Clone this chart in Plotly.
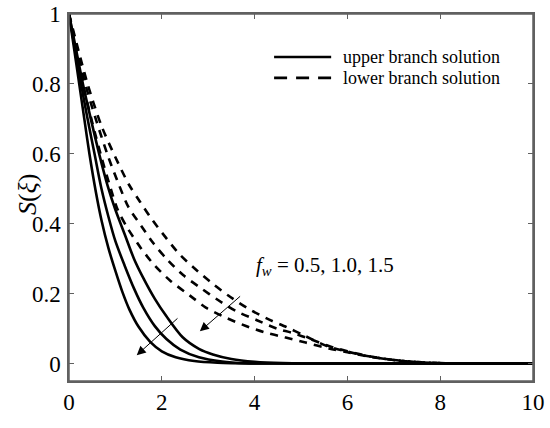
import plotly.graph_objects as go

# ---- data ----
xi_u1 = [0, 0.1, 0.22, 0.33, 0.44, 0.58, 0.7, 0.85, 1.0, 1.15, 1.3, 1.5, 1.75, 2.0, 2.3, 2.7, 3.2, 4.0, 10]
s_u1 = [1, 0.91, 0.80, 0.70, 0.60, 0.49, 0.41, 0.33, 0.265, 0.205, 0.155, 0.105, 0.062, 0.035, 0.018, 0.007, 0.002, 0, 0]

xi_u2 = [0, 0.13, 0.26, 0.4, 0.55, 0.7, 0.85, 1.0, 1.2, 1.4, 1.6, 1.85, 2.1, 2.4, 2.8, 3.3, 3.8, 4.5, 10]
s_u2 = [1, 0.90, 0.80, 0.70, 0.60, 0.50, 0.42, 0.35, 0.28, 0.215, 0.16, 0.107, 0.07, 0.04, 0.018, 0.006, 0.001, 0, 0]

xi_u3 = [0, 0.15, 0.3, 0.47, 0.65, 0.83, 1.0, 1.2, 1.4, 1.6, 1.85, 2.1, 2.45, 2.8, 3.1, 3.5, 4.0, 4.6, 5.2, 10]
s_u3 = [1, 0.90, 0.80, 0.70, 0.60, 0.51, 0.44, 0.37, 0.30, 0.245, 0.185, 0.135, 0.075, 0.042, 0.026, 0.013, 0.005, 0.001, 0, 0]

xi_l1 = [0, 0.3, 0.5, 0.7, 0.9, 1.05, 1.25, 1.55, 1.85, 2.2, 2.6, 2.95, 3.4, 3.8, 4.2, 4.65, 5.1, 5.6, 6.0, 6.5, 7.0, 7.5, 8.0, 9.0, 10]
s_l1 = [1, 0.80, 0.69, 0.59, 0.50, 0.44, 0.39, 0.33, 0.28, 0.235, 0.195, 0.16, 0.13, 0.108, 0.09, 0.075, 0.06, 0.043, 0.032, 0.019, 0.01, 0.004, 0.001, 0, 0]

xi_l2 = [0, 0.35, 0.6, 0.85, 1.08, 1.28, 1.55, 1.82, 2.1, 2.46, 2.85, 3.22, 3.6, 4.05, 4.48, 4.8, 5.2, 5.6, 6.0, 6.5, 7.0, 7.5, 8.0, 9.0, 10]
s_l2 = [1, 0.80, 0.69, 0.59, 0.51, 0.448, 0.395, 0.344, 0.30, 0.253, 0.215, 0.181, 0.15, 0.124, 0.10, 0.088, 0.07, 0.05, 0.035, 0.02, 0.01, 0.004, 0.001, 0, 0]

xi_l3 = [0, 0.4, 0.7, 1.0, 1.3, 1.53, 1.8, 2.1, 2.4, 2.75, 3.1, 3.47, 3.85, 4.26, 4.69, 5.04, 5.56, 6.0, 6.49, 7.0, 7.5, 8.0, 9.0, 10]
s_l3 = [1, 0.80, 0.68, 0.59, 0.51, 0.463, 0.41, 0.358, 0.31, 0.267, 0.228, 0.191, 0.158, 0.129, 0.104, 0.082, 0.05, 0.034, 0.02, 0.01, 0.004, 0.001, 0, 0]

upper = [(xi_u1, s_u1), (xi_u2, s_u2), (xi_u3, s_u3)]
lower = [(xi_l1, s_l1), (xi_l2, s_l2), (xi_l3, s_l3)]

x_ticks = [0, 2, 4, 6, 8, 10]
y_ticks = [0, 0.2, 0.4, 0.6, 0.8, 1]
y_tick_text = ["0", "0.2", "0.4", "0.6", "0.8", "1"]
x_range = [0, 10]
y_range = [-0.05, 1]

legend_labels = ["upper branch solution", "lower branch solution"]
fw_label = "<i>f</i><sub><i>w</i></sub> = 0.5, 1.0, 1.5"

# ---- figure ----
FONT = "Liberation Serif"
AX_COLOR = "#606060"
AX_W = 1.5
fig = go.Figure()

for xs, ys in upper:
    fig.add_trace(go.Scatter(x=xs, y=ys, mode="lines",
                             line=dict(color="black", width=2.6, shape="spline", smoothing=0.8),
                             showlegend=False, hoverinfo="skip"))
for xs, ys in lower:
    fig.add_trace(go.Scatter(x=xs, y=ys, mode="lines",
                             line=dict(color="black", width=2.6, dash="8px,7px", shape="spline", smoothing=0.8),
                             showlegend=False, hoverinfo="skip"))

axis_common = dict(showgrid=False, zeroline=False, showline=True, linecolor=AX_COLOR, linewidth=AX_W,
                   mirror="ticks", ticks="inside", ticklen=5, tickcolor=AX_COLOR, tickwidth=1,
                   automargin=False, ticklabeloverflow="allow",
                   tickfont=dict(family=FONT, size=23, color="black"))

fig.update_layout(
    xaxis=dict(range=x_range, tickvals=x_ticks, ticktext=[str(v) for v in x_ticks], **axis_common),
    yaxis=dict(range=y_range, tickvals=y_ticks, ticktext=y_tick_text, ticklabelstandoff=2, **axis_common),
    # frame axes on top and right (ticks only, no labels)
    xaxis2=dict(range=x_range, tickvals=x_ticks, overlaying="x", side="top", anchor="y",
                showgrid=False, zeroline=False, showline=True, linecolor=AX_COLOR, linewidth=AX_W,
                ticks="inside", ticklen=5, tickcolor=AX_COLOR, tickwidth=1,
                showticklabels=False, automargin=False),
    yaxis2=dict(range=y_range, tickvals=y_ticks, overlaying="y", side="right", anchor="x",
                showgrid=False, zeroline=False, showline=True, linecolor=AX_COLOR, linewidth=AX_W,
                ticks="inside", ticklen=5, tickcolor=AX_COLOR, tickwidth=1,
                showticklabels=False, automargin=False),
)
# invisible trace to activate the frame axes
fig.add_trace(go.Scatter(x=[x_range[0]], y=[y_range[0]], xaxis="x2", yaxis="y2", mode="markers",
                         marker=dict(opacity=0), showlegend=False, hoverinfo="skip"))

# plot-area frame
fig.add_shape(type="rect", xref="paper", yref="paper", x0=0, x1=1, y0=0, y1=1,
              line=dict(color=AX_COLOR, width=AX_W), layer="above")

# manual legend (paper coordinates)
leg_y = [0.883, 0.826]
dashes = ["solid", "13px,9px"]
for yy, dd, lab in zip(leg_y, dashes, legend_labels):
    fig.add_shape(type="line", xref="paper", yref="paper", x0=0.442, x1=0.565, y0=yy, y1=yy,
                  line=dict(color="black", width=2.6, dash=dd))
    fig.add_annotation(xref="paper", yref="paper", x=0.586, y=yy, text=lab, showarrow=False,
                       xanchor="left", yanchor="middle",
                       font=dict(family=FONT, size=18, color="black"))

# f_w label
fig.add_annotation(x=3.98, y=0.28, xref="x", yref="y", text=fw_label, showarrow=False,
                   xanchor="left", yanchor="middle", font=dict(family=FONT, size=21, color="black"))

# arrows
fig.add_annotation(x=1.46, y=0.024, ax=2.37, ay=0.133, xref="x", yref="y", axref="x", ayref="y",
                   text="", showarrow=True, arrowhead=2, arrowsize=1.8, arrowwidth=1, arrowcolor="black")
fig.add_annotation(x=2.82, y=0.092, ax=3.72, ay=0.196, xref="x", yref="y", axref="x", ayref="y",
                   text="", showarrow=True, arrowhead=2, arrowsize=1.8, arrowwidth=1, arrowcolor="black")

# axis titles as annotations
fig.add_annotation(x=5.13, y=-0.128, xref="x", yref="y", text="<i>ξ</i>", showarrow=False,
                   xanchor="center", yanchor="middle",
                   font=dict(family=FONT, size=26, color="black"))
fig.add_annotation(x=-0.088, y=0.507, xref="paper", yref="paper", text="<i>S</i>(<i>ξ</i>)",
                   showarrow=False, xanchor="center", yanchor="middle",
                   textangle=-90, font=dict(family=FONT, size=26, color="black"))

fig.update_layout(width=550, height=428, margin=dict(l=69, r=17, t=14, b=47, autoexpand=False),
                  plot_bgcolor="white", paper_bgcolor="white", showlegend=False)

# remove the default 8px page margin so the 550x428 figure fills the window exactly
fig.write_html("out.html", config={"displayModeBar": False},
               post_script="document.body.style.margin='0px';")
